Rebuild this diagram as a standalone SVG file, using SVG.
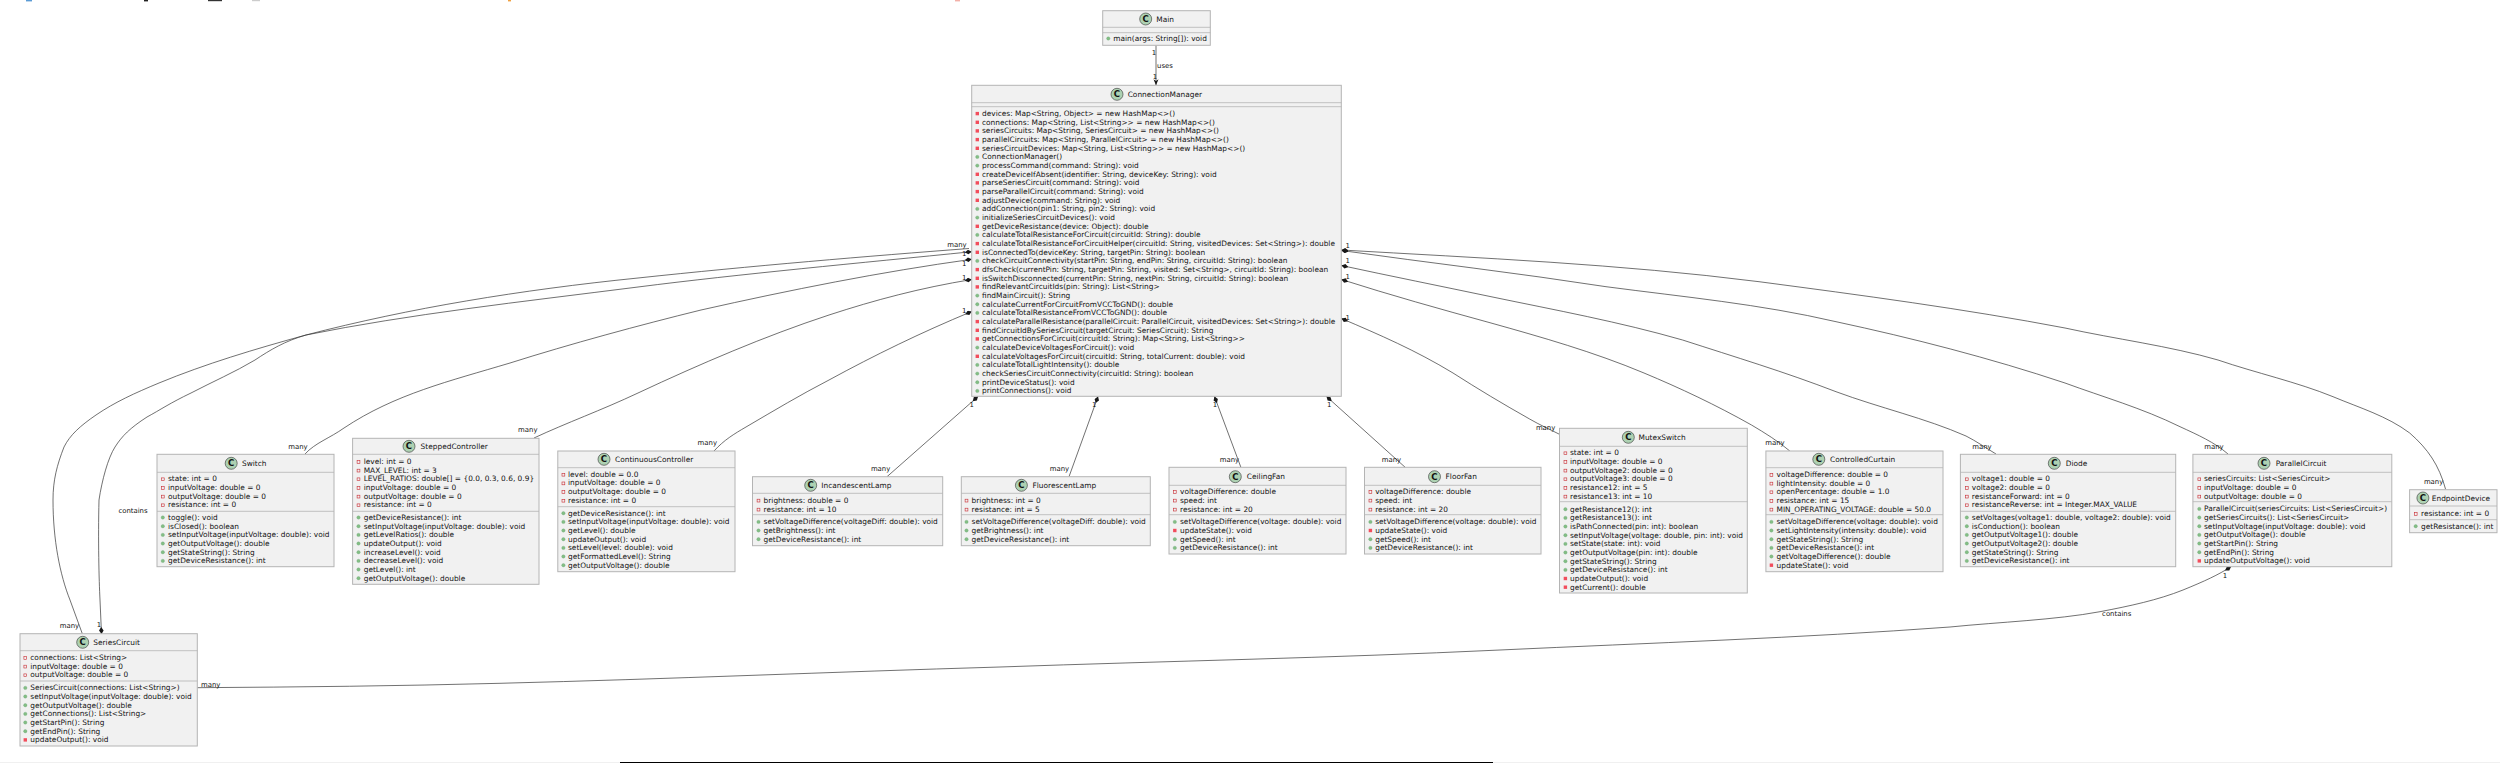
<svg xmlns="http://www.w3.org/2000/svg" width="2500" height="763" viewBox="0 0 2500 763">
<style>
text{font-family:"DejaVu Sans","Liberation Sans",sans-serif;fill:#111}
.t{font-size:7.42px}
.h{font-size:7.42px}
.l{font-size:6.9px;text-anchor:middle}
.b{fill:#f1f1f1;stroke:#b4b4b4;stroke-width:1}
.s{stroke:#b4b4b4;stroke-width:.8}
.i{fill:#add1b2;stroke:#333;stroke-width:.6}
.c{font-size:8.6px;font-weight:bold;text-anchor:middle}
.e{fill:none;stroke:#333;stroke-width:.7}
.d{marker-end:url(#comp)}
</style>
<defs>
<marker id="comp" markerUnits="userSpaceOnUse" markerWidth="8" markerHeight="6" refX="7" refY="2.5" orient="auto"><path d="M0 2.5L3.5 .2L7 2.5L3.5 4.8Z" fill="#181818"/></marker>
<marker id="open" markerUnits="userSpaceOnUse" markerWidth="8" markerHeight="6" refX="6" refY="2.5" orient="auto"><path d="M0 0L6 2.5L0 5L1.6 2.5Z" fill="#181818"/></marker>
<rect id="pvf" x="-1.4" y="-1.4" width="2.8" height="2.8" fill="none" stroke="#c82930" stroke-width=".6"/>
<rect id="pvm" x="-1.7" y="-1.7" width="3.4" height="3.4" fill="#f24d5c"/>
<circle id="pbm" r="1.7" fill="#84be84" stroke="#5fa070" stroke-width=".3"/>
</defs>
<rect width="2500" height="763" fill="#fff"/>
<g id="page-edges">
<rect x="26" y="0" width="6" height="1.4" fill="#5b9bd5"/>
<rect x="144" y="0" width="4" height="1.4" fill="#222"/>
<rect x="208" y="0" width="14" height="1.2" fill="#333"/>
<rect x="252" y="0" width="8" height="1.2" fill="#ccc"/>
<rect x="508" y="0" width="3" height="1.4" fill="#f0a040"/>
<rect x="955" y="0" width="5" height="1.4" fill="#f3b0a8"/>
<rect x="0" y="762" width="2500" height="1" fill="#f0f0f0"/>
<rect x="620" y="762" width="873" height="1" fill="#000"/>
</g>
<g id="connectors">
<path class="e" marker-end="url(#open)" d="M1156 45.3L1156 85.3"/>
<path class="e d" d="M82.3 633.7L70 600C60 575 53 540 53 500C53 480 57 465 64 447C70 435 80 426 96 415C115 402 135 393 159 383C205 364 255 349 306 335C410 314 520 302 638 287C740 274 860 263 971.7 251.7"/>
<path class="e" d="M969 248.5C870 256 750 266 638 278C520 290 410 308 306 335C285 341 270 350 255 360C235 372 212 382 191 393C170 403 160 410 147 417C130 428 122 436 115 447C108 458 102 480 99 500C98 540 99 580 100 600"/>
<path class="e d" d="M100 600L101.5 634"/>
<path class="e d" d="M305 454C315 443 330 438 344 428C395 394 450 381 510 363C570 344 640 325 701 310C790 290 880 272 971.7 259.3"/>
<path class="e d" d="M534 438C566 423 602 410 638 393C700 364 765 336 829 315C875 300 920 288 971.7 279.5"/>
<path class="e d" d="M714 451C724 440 734 434 746 427C775 410 800 395 829 380C875 355 920 333 971.7 311.5"/>
<path class="e d" d="M887 476.7L978 396.5"/>
<path class="e d" d="M1069 476.7L1098 396.5"/>
<path class="e d" d="M1240.9 467.3L1214.5 396.5"/>
<path class="e d" d="M1405.6 467.7L1326.5 396.5"/>
<path class="e d" d="M1559.5 434.3C1549 429 1540 425 1529.6 419C1503 404 1478 389 1453 373C1415 350 1380 335 1341.5 318.5"/>
<path class="e d" d="M1789.8 451C1778 441 1765 433 1751.5 425C1716 405 1680 388 1644 373C1594 352 1541 337 1491 323C1440 309 1390 295 1341.5 279.5"/>
<path class="e d" d="M1996 454C1986 448 1976 441 1966 436C1925 418 1880 408 1836 391.7C1785 372 1735 357 1682.6 340C1620 322 1555 310 1491 296.7C1440 286 1390 276 1341.5 265.5"/>
<path class="e d" d="M2228 454C2214 442 2198 435 2180 426.7C2142 408 2103 397 2065 383C1990 358 1912 338 1836 321.7C1760 304 1684 297 1606 286.7C1518 273 1430 263 1341.5 250.5"/>
<path class="e d" d="M2445.6 489.3C2439 465 2428 449 2409.7 433C2387 416 2360 408 2333 396.7C2297 382 2256 373 2218 360C2170 346 2115 339 2065 328C1965 309 1860 295 1759 281.7C1620 264 1480 258 1341.5 250"/>
<path class="e d" d="M197.3 687.7C300 687 400 686 500 683.3C670 679 830 672 1000 667C1170 661 1330 658 1500 650C1650 643 1800 638 1950 627C2000 622 2055 620 2100 611.7C2130 606 2158 600 2183 590C2205 581 2218 575 2231 566.7"/>
<text class="l" x="1154" y="55">1</text>
<text class="l" x="1165" y="68" >uses</text>
<text class="l" x="1155" y="79">1</text>
<text class="l" x="957" y="246.5">many</text>
<text class="l" x="964.3" y="255.5">1</text>
<text class="l" x="964.3" y="265.5">1</text>
<text class="l" x="964.3" y="280">1</text>
<text class="l" x="964.3" y="313">1</text>
<text class="l" x="1347.7" y="248">1</text>
<text class="l" x="1347.7" y="262.5">1</text>
<text class="l" x="1347.7" y="279">1</text>
<text class="l" x="1347.7" y="319.5">1</text>
<text class="l" x="971.7" y="407">1</text>
<text class="l" x="1094.3" y="407">1</text>
<text class="l" x="1215" y="407">1</text>
<text class="l" x="1329.3" y="407">1</text>
<text class="l" x="133" y="513">contains</text>
<text class="l" x="69.5" y="628">many</text>
<text class="l" x="99" y="626.5">1</text>
<text class="l" x="298" y="449.3">many</text>
<text class="l" x="527.8" y="432">many</text>
<text class="l" x="707.3" y="445">many</text>
<text class="l" x="880.6" y="471">many</text>
<text class="l" x="1059.4" y="471">many</text>
<text class="l" x="1229.4" y="462.3">many</text>
<text class="l" x="1391.4" y="462.3">many</text>
<text class="l" x="1545.6" y="430">many</text>
<text class="l" x="1775" y="445">many</text>
<text class="l" x="1982" y="449.3">many</text>
<text class="l" x="2214" y="449.3">many</text>
<text class="l" x="2433.6" y="484">many</text>
<text class="l" x="210.7" y="686.6">many</text>
<text class="l" x="2116.7" y="615.6">contains</text>
<text class="l" x="2225" y="578">1</text>
</g>
<g id="Main">
<rect class="b" x="1102.7" y="10.7" width="107.6" height="34.6"/>
<path class="s" d="M1102.7 27.3H1210.3M1102.7 32.7H1210.3"/>
<circle class="i" cx="1145.7" cy="19" r="6"/><text class="c" x="1145.7" y="22">C</text>
<text class="h" x="1156.3" y="21.7">Main</text>
<use href="#pbm" x="1108.3" y="38.5"/><text class="t" x="1113.3" y="41">main(args: String[]): void</text>
</g>
<g id="ConnectionManager">
<rect class="b" x="971.7" y="85.3" width="369.6" height="311"/>
<path class="s" d="M971.7 102.7H1341.3M971.7 106.7H1341.3"/>
<circle class="i" cx="1117" cy="94.3" r="6"/><text class="c" x="1117" y="97.3">C</text>
<text class="h" x="1127.7" y="97">ConnectionManager</text>
<use href="#pvm" x="977.3" y="113.6"/><text class="t" x="982" y="116">devices: Map&lt;String, Object&gt; = new HashMap&lt;&gt;()</text>
<use href="#pvm" x="977.3" y="122.3"/><text class="t" x="982" y="124.7">connections: Map&lt;String, List&lt;String&gt;&gt; = new HashMap&lt;&gt;()</text>
<use href="#pvm" x="977.3" y="130.9"/><text class="t" x="982" y="133.3">seriesCircuits: Map&lt;String, SeriesCircuit&gt; = new HashMap&lt;&gt;()</text>
<use href="#pvm" x="977.3" y="139.6"/><text class="t" x="982" y="142">parallelCircuits: Map&lt;String, ParallelCircuit&gt; = new HashMap&lt;&gt;()</text>
<use href="#pvm" x="977.3" y="148.3"/><text class="t" x="982" y="150.7">seriesCircuitDevices: Map&lt;String, List&lt;String&gt;&gt; = new HashMap&lt;&gt;()</text>
<use href="#pbm" x="977.3" y="156.9"/><text class="t" x="982" y="159.3">ConnectionManager()</text>
<use href="#pbm" x="977.3" y="165.6"/><text class="t" x="982" y="168">processCommand(command: String): void</text>
<use href="#pvm" x="977.3" y="174.3"/><text class="t" x="982" y="176.7">createDeviceIfAbsent(identifier: String, deviceKey: String): void</text>
<use href="#pvm" x="977.3" y="182.9"/><text class="t" x="982" y="185.3">parseSeriesCircuit(command: String): void</text>
<use href="#pvm" x="977.3" y="191.6"/><text class="t" x="982" y="194">parseParallelCircuit(command: String): void</text>
<use href="#pvm" x="977.3" y="200.3"/><text class="t" x="982" y="202.7">adjustDevice(command: String): void</text>
<use href="#pbm" x="977.3" y="208.9"/><text class="t" x="982" y="211.3">addConnection(pin1: String, pin2: String): void</text>
<use href="#pbm" x="977.3" y="217.6"/><text class="t" x="982" y="220">initializeSeriesCircuitDevices(): void</text>
<use href="#pvm" x="977.3" y="226.3"/><text class="t" x="982" y="228.7">getDeviceResistance(device: Object): double</text>
<use href="#pbm" x="977.3" y="234.9"/><text class="t" x="982" y="237.3">calculateTotalResistanceForCircuit(circuitId: String): double</text>
<use href="#pvm" x="977.3" y="243.6"/><text class="t" x="982" y="246">calculateTotalResistanceForCircuitHelper(circuitId: String, visitedDevices: Set&lt;String&gt;): double</text>
<use href="#pvm" x="977.3" y="252.3"/><text class="t" x="982" y="254.7">isConnectedTo(deviceKey: String, targetPin: String): boolean</text>
<use href="#pbm" x="977.3" y="260.9"/><text class="t" x="982" y="263.3">checkCircuitConnectivity(startPin: String, endPin: String, circuitId: String): boolean</text>
<use href="#pvm" x="977.3" y="269.6"/><text class="t" x="982" y="272">dfsCheck(currentPin: String, targetPin: String, visited: Set&lt;String&gt;, circuitId: String): boolean</text>
<use href="#pvm" x="977.3" y="278.3"/><text class="t" x="982" y="280.7">isSwitchDisconnected(currentPin: String, nextPin: String, circuitId: String): boolean</text>
<use href="#pvm" x="977.3" y="286.9"/><text class="t" x="982" y="289.3">findRelevantCircuitIds(pin: String): List&lt;String&gt;</text>
<use href="#pbm" x="977.3" y="295.6"/><text class="t" x="982" y="298">findMainCircuit(): String</text>
<use href="#pbm" x="977.3" y="304.3"/><text class="t" x="982" y="306.7">calculateCurrentForCircuitFromVCCToGND(): double</text>
<use href="#pbm" x="977.3" y="312.9"/><text class="t" x="982" y="315.3">calculateTotalResistanceFromVCCToGND(): double</text>
<use href="#pvm" x="977.3" y="321.6"/><text class="t" x="982" y="324">calculateParallelResistance(parallelCircuit: ParallelCircuit, visitedDevices: Set&lt;String&gt;): double</text>
<use href="#pvm" x="977.3" y="330.3"/><text class="t" x="982" y="332.7">findCircuitIdBySeriesCircuit(targetCircuit: SeriesCircuit): String</text>
<use href="#pvm" x="977.3" y="338.9"/><text class="t" x="982" y="341.3">getConnectionsForCircuit(circuitId: String): Map&lt;String, List&lt;String&gt;&gt;</text>
<use href="#pbm" x="977.3" y="347.6"/><text class="t" x="982" y="350">calculateDeviceVoltagesForCircuit(): void</text>
<use href="#pvm" x="977.3" y="356.3"/><text class="t" x="982" y="358.7">calculateVoltagesForCircuit(circuitId: String, totalCurrent: double): void</text>
<use href="#pbm" x="977.3" y="364.9"/><text class="t" x="982" y="367.3">calculateTotalLightIntensity(): double</text>
<use href="#pbm" x="977.3" y="373.6"/><text class="t" x="982" y="376">checkSeriesCircuitConnectivity(circuitId: String): boolean</text>
<use href="#pbm" x="977.3" y="382.3"/><text class="t" x="982" y="384.7">printDeviceStatus(): void</text>
<use href="#pbm" x="977.3" y="390.9"/><text class="t" x="982" y="393.3">printConnections(): void</text>
</g>
<g id="Switch">
<rect class="b" x="157" y="454.3" width="177" height="112.4"/>
<path class="s" d="M157 472.3H334M157 511.3H334"/>
<circle class="i" cx="231.2" cy="463.3" r="6"/><text class="c" x="231.2" y="466.3">C</text>
<text class="h" x="242" y="466">Switch</text>
<use href="#pvf" x="162.8" y="479.3"/><text class="t" x="168" y="481.4">state: int = 0</text>
<use href="#pvf" x="162.8" y="488"/><text class="t" x="168" y="490">inputVoltage: double = 0</text>
<use href="#pvf" x="162.8" y="496.6"/><text class="t" x="168" y="498.7">outputVoltage: double = 0</text>
<use href="#pvf" x="162.8" y="505.3"/><text class="t" x="168" y="507.4">resistance: int = 0</text>
<use href="#pbm" x="162.8" y="517.5"/><text class="t" x="168" y="520">toggle(): void</text>
<use href="#pbm" x="162.8" y="526.2"/><text class="t" x="168" y="528.7">isClosed(): boolean</text>
<use href="#pbm" x="162.8" y="534.9"/><text class="t" x="168" y="537.4">setInputVoltage(inputVoltage: double): void</text>
<use href="#pbm" x="162.8" y="543.5"/><text class="t" x="168" y="546">getOutputVoltage(): double</text>
<use href="#pbm" x="162.8" y="552.2"/><text class="t" x="168" y="554.7">getStateString(): String</text>
<use href="#pbm" x="162.8" y="560.9"/><text class="t" x="168" y="563.4">getDeviceResistance(): int</text>
</g>
<g id="SteppedController">
<rect class="b" x="352.6" y="438.3" width="186.4" height="146"/>
<path class="s" d="M352.6 454.3H539M352.6 511.3H539"/>
<circle class="i" cx="409" cy="446.3" r="6"/><text class="c" x="409" y="449.3">C</text>
<text class="h" x="420.6" y="449">SteppedController</text>
<use href="#pvf" x="358.5" y="462"/><text class="t" x="363.7" y="464">level: int = 0</text>
<use href="#pvf" x="358.5" y="470.6"/><text class="t" x="363.7" y="472.7">MAX_LEVEL: int = 3</text>
<use href="#pvf" x="358.5" y="479.3"/><text class="t" x="363.7" y="481.4">LEVEL_RATIOS: double[] = {0.0, 0.3, 0.6, 0.9}</text>
<use href="#pvf" x="358.5" y="488"/><text class="t" x="363.7" y="490">inputVoltage: double = 0</text>
<use href="#pvf" x="358.5" y="496.6"/><text class="t" x="363.7" y="498.7">outputVoltage: double = 0</text>
<use href="#pvf" x="358.5" y="505.3"/><text class="t" x="363.7" y="507.4">resistance: int = 0</text>
<use href="#pbm" x="358.5" y="517.5"/><text class="t" x="363.7" y="520">getDeviceResistance(): int</text>
<use href="#pbm" x="358.5" y="526.2"/><text class="t" x="363.7" y="528.7">setInputVoltage(inputVoltage: double): void</text>
<use href="#pbm" x="358.5" y="534.9"/><text class="t" x="363.7" y="537.4">getLevelRatios(): double</text>
<use href="#pbm" x="358.5" y="543.5"/><text class="t" x="363.7" y="546">updateOutput(): void</text>
<use href="#pbm" x="358.5" y="552.2"/><text class="t" x="363.7" y="554.7">increaseLevel(): void</text>
<use href="#pbm" x="358.5" y="560.9"/><text class="t" x="363.7" y="563.4">decreaseLevel(): void</text>
<use href="#pbm" x="358.5" y="569.5"/><text class="t" x="363.7" y="572">getLevel(): int</text>
<use href="#pbm" x="358.5" y="578.2"/><text class="t" x="363.7" y="580.7">getOutputVoltage(): double</text>
</g>
<g id="ContinuousController">
<rect class="b" x="557.8" y="451" width="177.2" height="120.7"/>
<path class="s" d="M557.8 467.7H735M557.8 506.7H735"/>
<circle class="i" cx="604" cy="459.3" r="6"/><text class="c" x="604" y="462.3">C</text>
<text class="h" x="615" y="462">ContinuousController</text>
<use href="#pvf" x="563.4" y="474.7"/><text class="t" x="568" y="476.7">level: double = 0.0</text>
<use href="#pvf" x="563.4" y="483.4"/><text class="t" x="568" y="485.4">inputVoltage: double = 0</text>
<use href="#pvf" x="563.4" y="492"/><text class="t" x="568" y="494.1">outputVoltage: double = 0</text>
<use href="#pvf" x="563.4" y="500.7"/><text class="t" x="568" y="502.8">resistance: int = 0</text>
<use href="#pbm" x="563.4" y="513.2"/><text class="t" x="568" y="515.7">getDeviceResistance(): int</text>
<use href="#pbm" x="563.4" y="521.9"/><text class="t" x="568" y="524.4">setInputVoltage(inputVoltage: double): void</text>
<use href="#pbm" x="563.4" y="530.5"/><text class="t" x="568" y="533">getLevel(): double</text>
<use href="#pbm" x="563.4" y="539.2"/><text class="t" x="568" y="541.7">updateOutput(): void</text>
<use href="#pbm" x="563.4" y="547.9"/><text class="t" x="568" y="550.4">setLevel(level: double): void</text>
<use href="#pbm" x="563.4" y="556.5"/><text class="t" x="568" y="559">getFormattedLevel(): String</text>
<use href="#pbm" x="563.4" y="565.2"/><text class="t" x="568" y="567.7">getOutputVoltage(): double</text>
</g>
<g id="IncandescentLamp">
<rect class="b" x="752.5" y="476.7" width="190.2" height="69"/>
<path class="s" d="M752.5 493.3H942.7M752.5 514.7H942.7"/>
<circle class="i" cx="810.7" cy="485.3" r="6"/><text class="c" x="810.7" y="488.3">C</text>
<text class="h" x="821.3" y="488">IncandescentLamp</text>
<use href="#pvf" x="758.5" y="500.6"/><text class="t" x="763.6" y="502.7">brightness: double = 0</text>
<use href="#pvf" x="758.5" y="509.6"/><text class="t" x="763.6" y="511.7">resistance: int = 10</text>
<use href="#pbm" x="758.5" y="521.9"/><text class="t" x="763.6" y="524.4">setVoltageDifference(voltageDiff: double): void</text>
<use href="#pbm" x="758.5" y="530.5"/><text class="t" x="763.6" y="533">getBrightness(): int</text>
<use href="#pbm" x="758.5" y="539.2"/><text class="t" x="763.6" y="541.7">getDeviceResistance(): int</text>
</g>
<g id="FluorescentLamp">
<rect class="b" x="961.3" y="476.7" width="189" height="69"/>
<path class="s" d="M961.3 493.3H1150.3M961.3 514.7H1150.3"/>
<circle class="i" cx="1021.4" cy="485.3" r="6"/><text class="c" x="1021.4" y="488.3">C</text>
<text class="h" x="1032.5" y="488">FluorescentLamp</text>
<use href="#pvf" x="966.5" y="500.6"/><text class="t" x="971.6" y="502.7">brightness: int = 0</text>
<use href="#pvf" x="966.5" y="509.6"/><text class="t" x="971.6" y="511.7">resistance: int = 5</text>
<use href="#pbm" x="966.5" y="521.9"/><text class="t" x="971.6" y="524.4">setVoltageDifference(voltageDiff: double): void</text>
<use href="#pbm" x="966.5" y="530.5"/><text class="t" x="971.6" y="533">getBrightness(): int</text>
<use href="#pbm" x="966.5" y="539.2"/><text class="t" x="971.6" y="541.7">getDeviceResistance(): int</text>
</g>
<g id="CeilingFan">
<rect class="b" x="1169" y="467.3" width="177" height="86.7"/>
<path class="s" d="M1169 485.3H1346M1169 514.7H1346"/>
<circle class="i" cx="1235.3" cy="476.7" r="6"/><text class="c" x="1235.3" y="479.7">C</text>
<text class="h" x="1246.8" y="479.4">CeilingFan</text>
<use href="#pvf" x="1174.8" y="491.9"/><text class="t" x="1180" y="494">voltageDifference: double</text>
<use href="#pvf" x="1174.8" y="500.6"/><text class="t" x="1180" y="502.7">speed: int</text>
<use href="#pvf" x="1174.8" y="509.6"/><text class="t" x="1180" y="511.7">resistance: int = 20</text>
<use href="#pbm" x="1174.8" y="521.9"/><text class="t" x="1180" y="524.4">setVoltageDifference(voltage: double): void</text>
<use href="#pvm" x="1174.8" y="530.5"/><text class="t" x="1180" y="533">updateState(): void</text>
<use href="#pbm" x="1174.8" y="539.2"/><text class="t" x="1180" y="541.7">getSpeed(): int</text>
<use href="#pbm" x="1174.8" y="547.9"/><text class="t" x="1180" y="550.4">getDeviceResistance(): int</text>
</g>
<g id="FloorFan">
<rect class="b" x="1364.5" y="467.3" width="176.5" height="86.7"/>
<path class="s" d="M1364.5 485.3H1541M1364.5 514.7H1541"/>
<circle class="i" cx="1434.5" cy="476.7" r="6"/><text class="c" x="1434.5" y="479.7">C</text>
<text class="h" x="1445.6" y="479.4">FloorFan</text>
<use href="#pvf" x="1370.4" y="491.9"/><text class="t" x="1375.2" y="494">voltageDifference: double</text>
<use href="#pvf" x="1370.4" y="500.6"/><text class="t" x="1375.2" y="502.7">speed: int</text>
<use href="#pvf" x="1370.4" y="509.6"/><text class="t" x="1375.2" y="511.7">resistance: int = 20</text>
<use href="#pbm" x="1370.4" y="521.9"/><text class="t" x="1375.2" y="524.4">setVoltageDifference(voltage: double): void</text>
<use href="#pvm" x="1370.4" y="530.5"/><text class="t" x="1375.2" y="533">updateState(): void</text>
<use href="#pbm" x="1370.4" y="539.2"/><text class="t" x="1375.2" y="541.7">getSpeed(): int</text>
<use href="#pbm" x="1370.4" y="547.9"/><text class="t" x="1375.2" y="550.4">getDeviceResistance(): int</text>
</g>
<g id="MutexSwitch">
<rect class="b" x="1559.5" y="428.3" width="187.8" height="164.7"/>
<path class="s" d="M1559.5 446.3H1747.3M1559.5 501.7H1747.3"/>
<circle class="i" cx="1628.3" cy="437.3" r="6"/><text class="c" x="1628.3" y="440.3">C</text>
<text class="h" x="1638.5" y="440">MutexSwitch</text>
<use href="#pvf" x="1565.4" y="453.3"/><text class="t" x="1570" y="455.4">state: int = 0</text>
<use href="#pvf" x="1565.4" y="462"/><text class="t" x="1570" y="464">inputVoltage: double = 0</text>
<use href="#pvf" x="1565.4" y="470.6"/><text class="t" x="1570" y="472.7">outputVoltage2: double = 0</text>
<use href="#pvf" x="1565.4" y="479.3"/><text class="t" x="1570" y="481.4">outputVoltage3: double = 0</text>
<use href="#pvf" x="1565.4" y="488"/><text class="t" x="1570" y="490">resistance12: int = 5</text>
<use href="#pvf" x="1565.4" y="496.6"/><text class="t" x="1570" y="498.7">resistance13: int = 10</text>
<use href="#pbm" x="1565.4" y="509.2"/><text class="t" x="1570" y="511.7">getResistance12(): int</text>
<use href="#pbm" x="1565.4" y="517.9"/><text class="t" x="1570" y="520.4">getResistance13(): int</text>
<use href="#pbm" x="1565.4" y="526.5"/><text class="t" x="1570" y="529">isPathConnected(pin: int): boolean</text>
<use href="#pbm" x="1565.4" y="535.2"/><text class="t" x="1570" y="537.7">setInputVoltage(voltage: double, pin: int): void</text>
<use href="#pbm" x="1565.4" y="543.9"/><text class="t" x="1570" y="546.4">setState(state: int): void</text>
<use href="#pbm" x="1565.4" y="552.5"/><text class="t" x="1570" y="555">getOutputVoltage(pin: int): double</text>
<use href="#pbm" x="1565.4" y="561.2"/><text class="t" x="1570" y="563.7">getStateString(): String</text>
<use href="#pbm" x="1565.4" y="569.9"/><text class="t" x="1570" y="572.4">getDeviceResistance(): int</text>
<use href="#pvm" x="1565.4" y="578.5"/><text class="t" x="1570" y="581">updateOutput(): void</text>
<use href="#pvm" x="1565.4" y="587.2"/><text class="t" x="1570" y="589.7">getCurrent(): double</text>
</g>
<g id="ControlledCurtain">
<rect class="b" x="1765.9" y="451" width="177.1" height="120.7"/>
<path class="s" d="M1765.9 467.7H1943M1765.9 514.7H1943"/>
<circle class="i" cx="1818.8" cy="459.3" r="6"/><text class="c" x="1818.8" y="462.3">C</text>
<text class="h" x="1830" y="462">ControlledCurtain</text>
<use href="#pvf" x="1771.4" y="474.9"/><text class="t" x="1776.5" y="477">voltageDifference: double = 0</text>
<use href="#pvf" x="1771.4" y="483.6"/><text class="t" x="1776.5" y="485.7">lightIntensity: double = 0</text>
<use href="#pvf" x="1771.4" y="492.3"/><text class="t" x="1776.5" y="494.4">openPercentage: double = 1.0</text>
<use href="#pvf" x="1771.4" y="500.9"/><text class="t" x="1776.5" y="503">resistance: int = 15</text>
<use href="#pvf" x="1771.4" y="509.6"/><text class="t" x="1776.5" y="511.7">MIN_OPERATING_VOLTAGE: double = 50.0</text>
<use href="#pbm" x="1771.4" y="521.9"/><text class="t" x="1776.5" y="524.4">setVoltageDifference(voltage: double): void</text>
<use href="#pbm" x="1771.4" y="530.5"/><text class="t" x="1776.5" y="533">setLightIntensity(intensity: double): void</text>
<use href="#pbm" x="1771.4" y="539.2"/><text class="t" x="1776.5" y="541.7">getStateString(): String</text>
<use href="#pbm" x="1771.4" y="547.9"/><text class="t" x="1776.5" y="550.4">getDeviceResistance(): int</text>
<use href="#pbm" x="1771.4" y="556.5"/><text class="t" x="1776.5" y="559">getVoltageDifference(): double</text>
<use href="#pvm" x="1771.4" y="565.2"/><text class="t" x="1776.5" y="567.7">updateState(): void</text>
</g>
<g id="Diode">
<rect class="b" x="1960.4" y="454.3" width="215.3" height="112.4"/>
<path class="s" d="M1960.4 472.3H2175.7M1960.4 511.3H2175.7"/>
<circle class="i" cx="2054.3" cy="463.3" r="6"/><text class="c" x="2054.3" y="466.3">C</text>
<text class="h" x="2065.7" y="466">Diode</text>
<use href="#pvf" x="1966.8" y="479.3"/><text class="t" x="1971.8" y="481.4">voltage1: double = 0</text>
<use href="#pvf" x="1966.8" y="488"/><text class="t" x="1971.8" y="490">voltage2: double = 0</text>
<use href="#pvf" x="1966.8" y="496.6"/><text class="t" x="1971.8" y="498.7">resistanceForward: int = 0</text>
<use href="#pvf" x="1966.8" y="505.3"/><text class="t" x="1971.8" y="507.4">resistanceReverse: int = Integer.MAX_VALUE</text>
<use href="#pbm" x="1966.8" y="517.5"/><text class="t" x="1971.8" y="520">setVoltages(voltage1: double, voltage2: double): void</text>
<use href="#pbm" x="1966.8" y="526.2"/><text class="t" x="1971.8" y="528.7">isConduction(): boolean</text>
<use href="#pbm" x="1966.8" y="534.9"/><text class="t" x="1971.8" y="537.4">getOutputVoltage1(): double</text>
<use href="#pbm" x="1966.8" y="543.5"/><text class="t" x="1971.8" y="546">getOutputVoltage2(): double</text>
<use href="#pbm" x="1966.8" y="552.2"/><text class="t" x="1971.8" y="554.7">getStateString(): String</text>
<use href="#pbm" x="1966.8" y="560.9"/><text class="t" x="1971.8" y="563.4">getDeviceResistance(): int</text>
</g>
<g id="ParallelCircuit">
<rect class="b" x="2192.9" y="454.3" width="198.9" height="112.4"/>
<path class="s" d="M2192.9 472.3H2391.8M2192.9 501.7H2391.8"/>
<circle class="i" cx="2264" cy="463.3" r="6"/><text class="c" x="2264" y="466.3">C</text>
<text class="h" x="2275.7" y="466">ParallelCircuit</text>
<use href="#pvf" x="2199.3" y="479.3"/><text class="t" x="2204" y="481.4">seriesCircuits: List&lt;SeriesCircuit&gt;</text>
<use href="#pvf" x="2199.3" y="488"/><text class="t" x="2204" y="490">inputVoltage: double = 0</text>
<use href="#pvf" x="2199.3" y="496.6"/><text class="t" x="2204" y="498.7">outputVoltage: double = 0</text>
<use href="#pbm" x="2199.3" y="508.9"/><text class="t" x="2204" y="511.4">ParallelCircuit(seriesCircuits: List&lt;SeriesCircuit&gt;)</text>
<use href="#pbm" x="2199.3" y="517.5"/><text class="t" x="2204" y="520">getSeriesCircuits(): List&lt;SeriesCircuit&gt;</text>
<use href="#pbm" x="2199.3" y="526.2"/><text class="t" x="2204" y="528.7">setInputVoltage(inputVoltage: double): void</text>
<use href="#pbm" x="2199.3" y="534.9"/><text class="t" x="2204" y="537.4">getOutputVoltage(): double</text>
<use href="#pbm" x="2199.3" y="543.5"/><text class="t" x="2204" y="546">getStartPin(): String</text>
<use href="#pbm" x="2199.3" y="552.2"/><text class="t" x="2204" y="554.7">getEndPin(): String</text>
<use href="#pvm" x="2199.3" y="560.9"/><text class="t" x="2204" y="563.4">updateOutputVoltage(): void</text>
</g>
<g id="EndpointDevice">
<rect class="b" x="2409.6" y="489.7" width="87.4" height="43"/>
<path class="s" d="M2409.6 506H2497M2409.6 519.7H2497"/>
<circle class="i" cx="2422.9" cy="498" r="6"/><text class="c" x="2422.9" y="501">C</text>
<text class="h" x="2431.8" y="500.7">EndpointDevice</text>
<use href="#pvf" x="2415.7" y="514"/><text class="t" x="2421" y="516">resistance: int = 0</text>
<use href="#pbm" x="2415.7" y="526.2"/><text class="t" x="2421" y="528.7">getResistance(): int</text>
</g>
<g id="SeriesCircuit">
<rect class="b" x="20" y="633.7" width="177.3" height="112.3"/>
<path class="s" d="M20 650.7H197.3M20 681H197.3"/>
<circle class="i" cx="82.7" cy="642.3" r="6"/><text class="c" x="82.7" y="645.3">C</text>
<text class="h" x="93.3" y="645">SeriesCircuit</text>
<use href="#pvf" x="25.3" y="658"/><text class="t" x="30.3" y="660">connections: List&lt;String&gt;</text>
<use href="#pvf" x="25.3" y="666.6"/><text class="t" x="30.3" y="668.7">inputVoltage: double = 0</text>
<use href="#pvf" x="25.3" y="675.3"/><text class="t" x="30.3" y="677.4">outputVoltage: double = 0</text>
<use href="#pbm" x="25.3" y="687.9"/><text class="t" x="30.3" y="690.4">SeriesCircuit(connections: List&lt;String&gt;)</text>
<use href="#pbm" x="25.3" y="696.5"/><text class="t" x="30.3" y="699">setInputVoltage(inputVoltage: double): void</text>
<use href="#pbm" x="25.3" y="705.2"/><text class="t" x="30.3" y="707.7">getOutputVoltage(): double</text>
<use href="#pbm" x="25.3" y="713.9"/><text class="t" x="30.3" y="716.4">getConnections(): List&lt;String&gt;</text>
<use href="#pbm" x="25.3" y="722.5"/><text class="t" x="30.3" y="725">getStartPin(): String</text>
<use href="#pbm" x="25.3" y="731.2"/><text class="t" x="30.3" y="733.7">getEndPin(): String</text>
<use href="#pvm" x="25.3" y="739.9"/><text class="t" x="30.3" y="742.4">updateOutput(): void</text>
</g>
</svg>
